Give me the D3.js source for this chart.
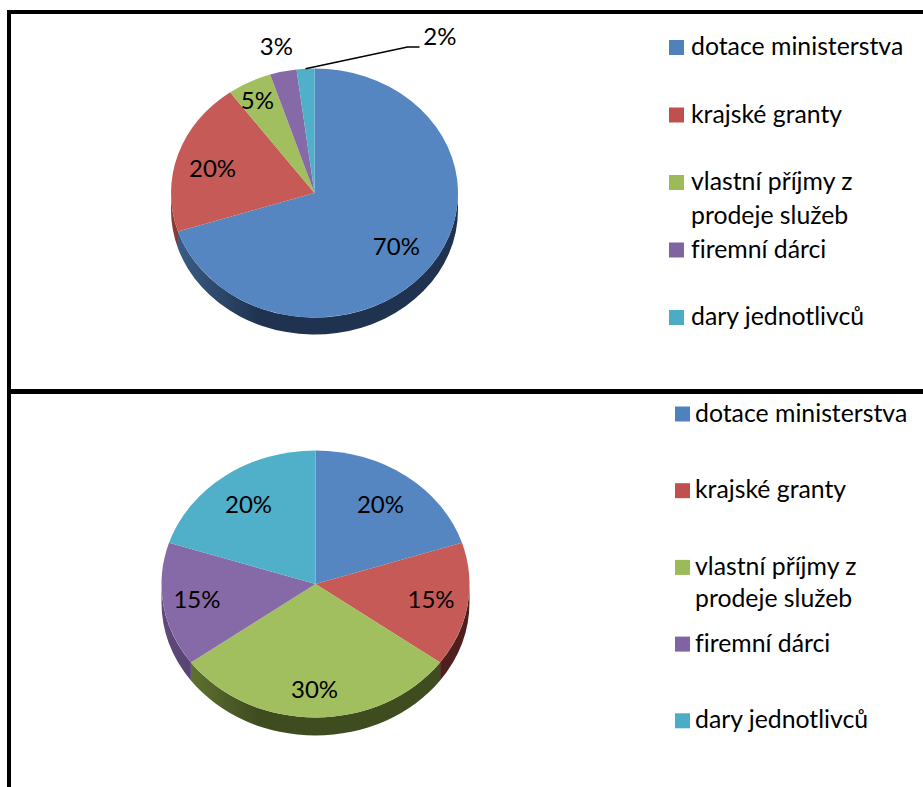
<!DOCTYPE html>
<html>
<head>
<meta charset="utf-8">
<script src="https://cdn.jsdelivr.net/npm/d3@7"></script>
<style>
html, body { margin: 0; padding: 0; background: #fff; }
svg { display: block; }
text { font-family: Lato, "Open Sans", sans-serif; fill: #000; font-variant-ligatures: none; }
</style>
</head>
<body>
<div id="container"></div>
<script>
const width = 923;
const height = 787;

//------------------DATA------------------//
const categories = ["dotace ministerstva", "krajské granty", "vlastní příjmy z|prodeje služeb", "firemní dárci", "dary jednotlivců"];
const valuesTop = [70, 20, 5, 3, 2];
const valuesBottom = [20, 15, 30, 15, 20];

const topColors = ["#5586c1", "#c55a56", "#a2bf5f", "#8669a7", "#50afc9"];
const legendColors = ["#4f81bd", "#c0504d", "#9bbb59", "#8064a2", "#4bacc6"];
const wallLight = ["#3c6088", "#8f3b38", "#6d8138", "#5f4a7c", "#357f94"];
const wallDark = ["#1f3350", "#4f1f1d", "#3f4c20", "#46375c", "#255d6c"];

const svg = d3.select("#container").append("svg")
    .attr("width", width)
    .attr("height", height);
const defs = svg.append("defs");

//------------------FRAME------------------//
svg.append("rect").attr("x", 7).attr("y", 10).attr("width", 4).attr("height", height - 10).attr("fill", "#000");
svg.append("rect").attr("x", 7).attr("y", 10).attr("width", width - 7).attr("height", 4).attr("fill", "#000");
svg.append("rect").attr("x", 7).attr("y", 389).attr("width", width - 7).attr("height", 5).attr("fill", "#000");

//------------------PIE------------------//
const pie = d3.pie().sort(null).value(function(d) { return d; });

function drawPie(id, values, cx, cy, rx, ry, depth, labelShift) {
    const k = ry / rx;
    const slices = pie(values);
    const g = svg.append("g").attr("transform", "translate(" + cx + "," + cy + ")");

    // side wall, only the front half of the rim shows
    slices.forEach(function(s, i) {
        const a0 = Math.max(s.startAngle, Math.PI / 2);
        const a1 = Math.min(s.endAngle, 3 * Math.PI / 2);
        if (a1 <= a0) return;
        const gradId = id + "-wall-" + i;
        const grad = defs.append("linearGradient")
            .attr("id", gradId)
            .attr("gradientUnits", "userSpaceOnUse")
            .attr("x1", -rx).attr("x2", rx).attr("y1", 0).attr("y2", 0);
        grad.append("stop").attr("offset", 0).attr("stop-color", wallLight[i]);
        grad.append("stop").attr("offset", 0.31).attr("stop-color", wallDark[i]);
        grad.append("stop").attr("offset", 1).attr("stop-color", wallDark[i]);

        const p = d3.path();
        p.arc(0, 0, rx, a0 - Math.PI / 2, a1 - Math.PI / 2);
        p.arc(0, depth / k, rx, a1 - Math.PI / 2, a0 - Math.PI / 2, true);
        p.closePath();
        g.append("path")
            .attr("transform", "scale(1," + k + ")")
            .attr("d", p.toString())
            .attr("fill", "url(#" + gradId + ")");
    });

    // top face
    const arc = d3.arc().innerRadius(0).outerRadius(rx);
    g.selectAll("path.slice")
        .data(slices)
        .enter()
        .append("path")
        .attr("class", "slice")
        .attr("transform", "scale(1," + k + ")")
        .attr("d", arc)
        .attr("fill", function(d, i) { return topColors[i]; });

    // labels
    const labelArc = d3.arc().innerRadius(rx * 0.74).outerRadius(rx * 0.74);
    g.selectAll("text")
        .data(slices)
        .enter()
        .append("text")
        .attr("x", function(d, i) { return labelArc.centroid(d)[0] + labelShift[i][0]; })
        .attr("y", function(d, i) { return labelArc.centroid(d)[1] * k + labelShift[i][1]; })
        .attr("text-anchor", "middle")
        .attr("dominant-baseline", "central")
        .style("font-size", "24px")
        .text(function(d) { return d.value + "%"; });

    return { g: g, slices: slices, k: k };
}

const shiftTop = [[-4, -2], [-1, 3], [-9, -11], [-15, -58], [132, -66]];
const shiftBottom = [[-2, -1], [3, -1], [-1, 6], [-6, -1], [0, -1]];

const top1 = drawPie("a", valuesTop, 314.5, 193, 143.5, 124.5, 17, shiftTop);
drawPie("b", valuesBottom, 315.5, 584, 154, 133.5, 18, shiftBottom);

// leader line of the smallest slice
const leaderMid = (top1.slices[4].startAngle + top1.slices[4].endAngle) / 2;
const leaderX = d3.scaleLinear().domain([0, 1]).range([0, 143.5 * Math.sin(leaderMid)]);
const leaderY = d3.scaleLinear().domain([0, 1]).range([0, -124.5 * Math.cos(leaderMid)]);
top1.g.append("path")
    .attr("d", d3.line()([[leaderX(1), leaderY(1)], [93, -146], [105, -146]]))
    .attr("fill", "none")
    .attr("stroke", "#000")
    .attr("stroke-width", 1.5);

//------------------LEGEND------------------//
function drawLegend(xSwatch, xText, yFirst, yStep, lineHeight) {
    const y = d3.scaleLinear().domain([0, 1]).range([yFirst, yFirst + yStep]);
    const items = svg.append("g").selectAll("g")
        .data(categories)
        .enter()
        .append("g");
    items.append("rect")
        .attr("x", xSwatch)
        .attr("y", function(d, i) { return y(i) - 7.5; })
        .attr("width", 15)
        .attr("height", 15)
        .attr("fill", function(d, i) { return legendColors[i]; });
    items.each(function(d, i) {
        d3.select(this).selectAll("text")
            .data(d.split("|"))
            .enter()
            .append("text")
            .attr("x", xText)
            .attr("y", function(t, j) { return y(i) - 2 + j * lineHeight; })
            .attr("dominant-baseline", "central")
            .style("font-size", "24.8px")
            .text(function(t) { return t; });
    });
}

drawLegend(669, 691, 47.5, 67.5, 33.5);
drawLegend(675, 695, 414, 76.7, 32.5);
</script>
</body>
</html>
